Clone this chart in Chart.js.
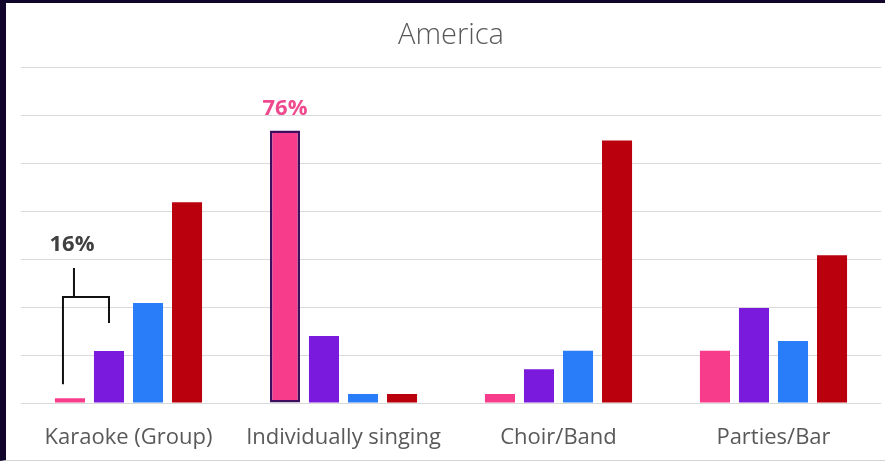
<!DOCTYPE html>
<html>
<head>
<meta charset="utf-8">
<script src="https://cdn.jsdelivr.net/npm/chart.js@4/dist/chart.umd.min.js"></script>
<style>
  html, body { margin: 0; padding: 0; background: #fff; }
  #wrap {
    position: absolute; left: 0; top: 0;
    width: 885px; height: 461px;
    box-sizing: border-box;
    border-top: 3px solid #12052b;
    border-left: 6px solid #12052b;
    border-bottom: 1px solid #d4d4d4;
    background: #fff;
  }
  #chart { display: block; }
</style>
</head>
<body>
<div id="wrap"><canvas id="chart" width="879" height="457"></canvas></div>
<script>
// share of people (%) per activity, four groups
var categories = ['Karaoke (Group)', 'Individually singing', 'Choir/Band', 'Parties/Bar'];
var pinkValues   = [1.3, 76, 2.5, 14.6];
var purpleValues = [14.5, 18.7, 9.4, 26.5];
var blueValues   = [27.9, 2.5, 14.6, 17.3];
var redValues    = [56, 2.5, 73.2, 41.2];

var yMax = 93.5;
var gridLines = 7;

// labels and the bracket over the first two karaoke bars
var callouts = {
  id: 'callouts',
  afterDatasetsDraw: function(chart) {
    var ctx = chart.ctx;
    var pink = chart.getDatasetMeta(0).data;
    var purple = chart.getDatasetMeta(1).data;

    // 76% over the single-singer bar
    var top = pink[1];
    ctx.save();
    ctx.font = 'bold 22px "Open Sans", sans-serif';
    ctx.fillStyle = '#ef4a8d';
    ctx.textAlign = 'center';
    ctx.textBaseline = 'middle';
    ctx.fillText(pinkValues[1] + '%', top.x, top.y - 22);

    // bracket joining pink + purple karaoke bars
    var a = pink[0], b = purple[0];
    var xl = a.x - 7, xr = b.x;
    var yh = b.y - 54;
    ctx.strokeStyle = '#111';
    ctx.lineWidth = 2;
    ctx.beginPath();
    ctx.moveTo(xl, a.y - 14);
    ctx.lineTo(xl, yh);
    ctx.lineTo(xr, yh);
    ctx.lineTo(xr, b.y - 28);
    ctx.moveTo(xl + 11, yh);
    ctx.lineTo(xl + 11, yh - 29);
    ctx.stroke();

    ctx.fillStyle = '#404040';
    ctx.fillText(Math.round(pinkValues[0] + purpleValues[0]) + '%', xl + 9, yh - 52);
    ctx.restore();
  }
};

var ctx = document.getElementById('chart');
var chart = new Chart(ctx, {
  type: 'bar',
  data: {
    labels: categories,
    datasets: [{
      data: pinkValues,
      backgroundColor: '#f73c8c',
      borderColor: '#3d0d5e',
      borderWidth: [0, 2.5, 0, 0],
      borderSkipped: false
    }, {
      data: purpleValues,
      backgroundColor: '#7a1add'
    }, {
      data: blueValues,
      backgroundColor: '#2a7df8'
    }, {
      data: redValues,
      backgroundColor: '#b9000c'
    }]
  },
  options: {
    responsive: false,
    animation: false,
    categoryPercentage: 0.726,
    barPercentage: 0.77,
    layout: { padding: { left: 15, right: 4, top: 0, bottom: 0 } },
    plugins: {
      legend: { display: false },
      tooltip: { enabled: false },
      title: {
        display: true,
        text: 'America',
        color: '#595959',
        font: { family: '"Open Sans", sans-serif', size: 29, weight: '300' },
        padding: { top: 15, bottom: 15 }
      }
    },
    scales: {
      x: {
        afterFit: function(scale) { scale.height = 57; },
        grid: { display: false },
        border: { display: false },
        ticks: {
          color: '#595959',
          padding: 14,
          maxRotation: 0,
          font: { family: '"Open Sans", sans-serif', size: 22 }
        }
      },
      y: {
        min: 0,
        max: yMax,
        afterBuildTicks: function(scale) {
          var ticks = [];
          for (var i = 0; i <= gridLines; i++) ticks.push({ value: yMax * i / gridLines });
          scale.ticks = ticks;
        },
        grid: { color: '#d9d9d9', lineWidth: 1, drawTicks: false },
        border: { display: false },
        ticks: { display: false }
      }
    }
  },
  plugins: [callouts]
});
</script>
</body>
</html>
